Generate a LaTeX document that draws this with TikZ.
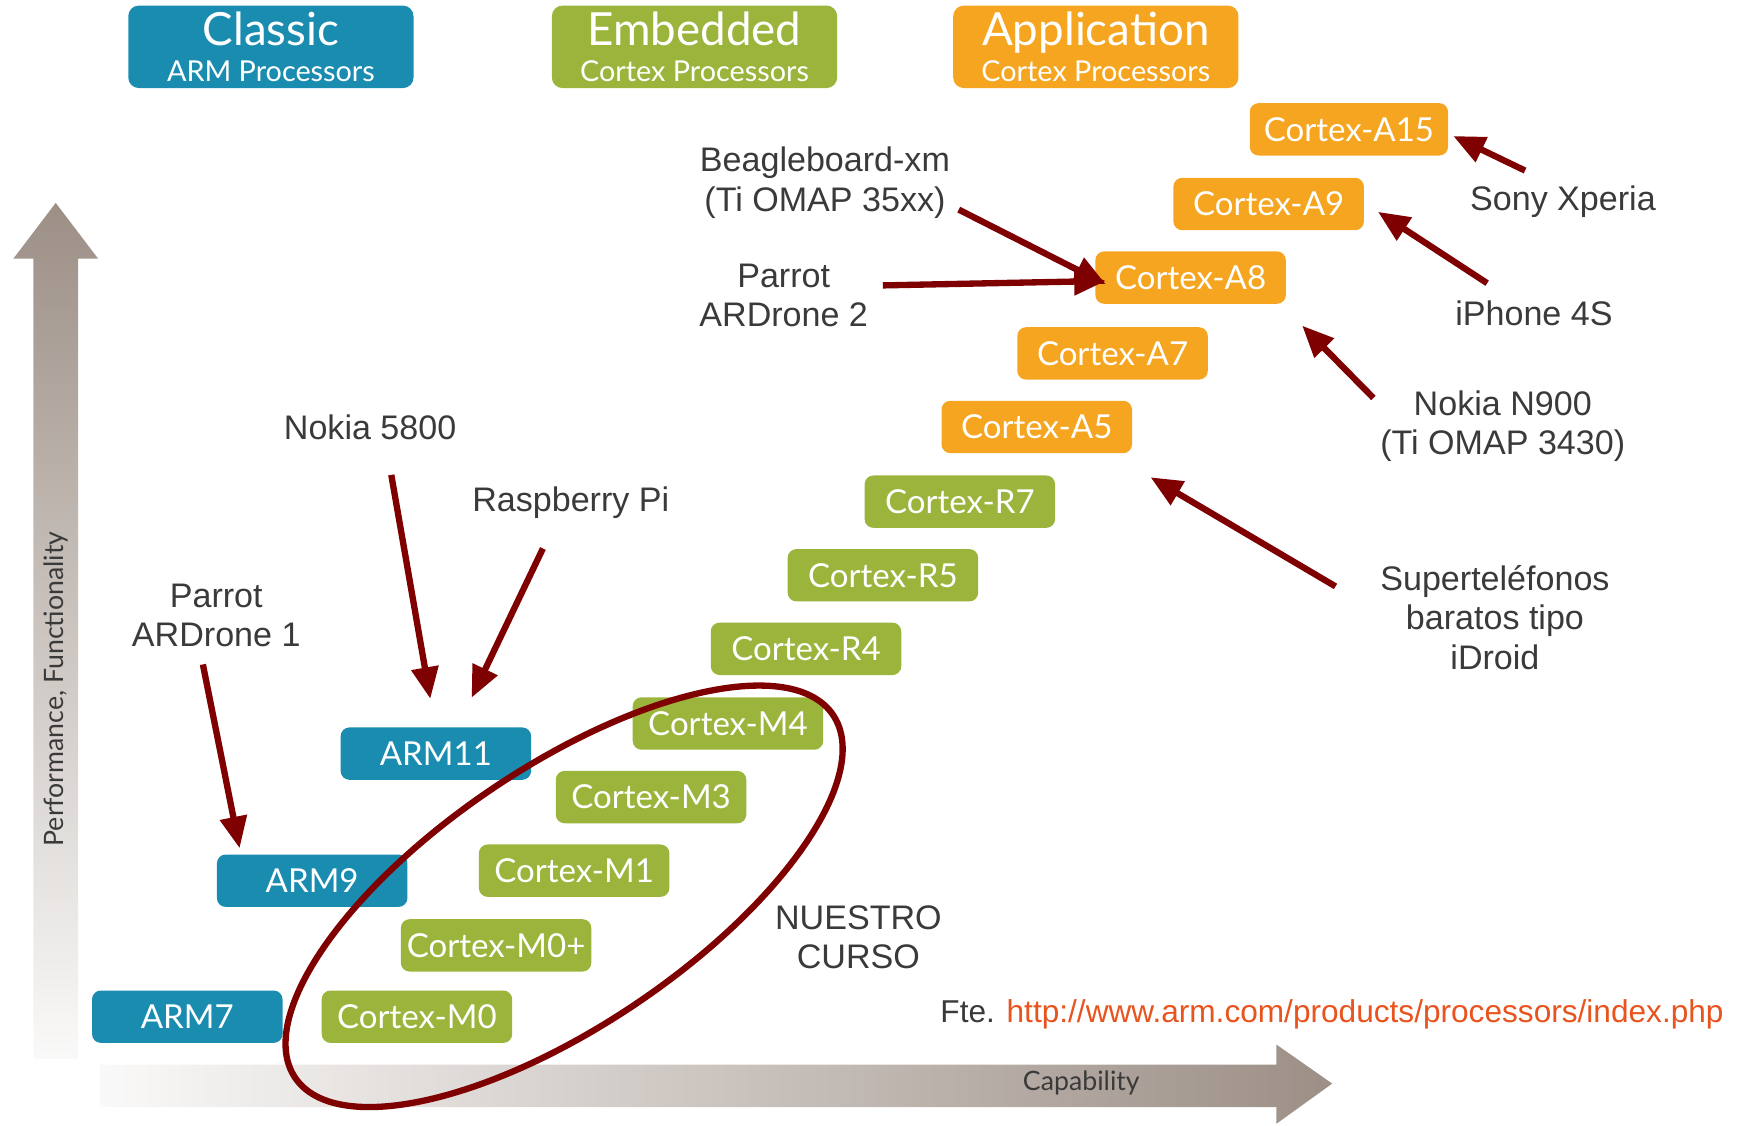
\documentclass[tikz,border=0pt]{standalone}
\usepackage{fontspec}
\setmainfont{Liberation Sans}
\newfontfamily\chipfont{Lato}
\usetikzlibrary{arrows.meta}

\definecolor{armblue}{HTML}{1A8CB0}
\definecolor{armgreen}{HTML}{9BB53C}
\definecolor{armorange}{HTML}{F5A51F}
\definecolor{txtgray}{HTML}{3A3A3A}
\definecolor{darkred}{HTML}{7E0000}
\definecolor{axisgray}{HTML}{9C8F86}
\definecolor{linkred}{HTML}{E8531E}

\tikzset{
  chip/.style={rounded corners=2.5pt, minimum width=1.906cm, minimum height=0.524cm,
    inner sep=0pt, text=white, font=\chipfont\fontsize{9.4}{11}\selectfont},
  classicbox/.style={chip, fill=armblue},
  embbox/.style={chip, fill=armgreen},
  appbox/.style={chip, fill=armorange},
  family/.style={rounded corners=3pt, minimum width=2.854cm, minimum height=0.825cm,
    inner sep=0pt, text=white, align=center, font=\chipfont},
  lbl/.style={text=txtgray, align=center, inner sep=0pt, font=\fontsize{9.7}{11.2}\selectfont},
  axislbl/.style={text=txtgray, inner sep=0pt, font=\chipfont\fontsize{7.6}{9}\selectfont},
  pointer/.style={draw=darkred, line width=1.8pt, -{Triangle[length=9pt,width=7.5pt]}},
}

\begin{document}
\begin{tikzpicture}[x=0.011148cm, y=-0.011148cm]
  \useasboundingbox (0,0) rectangle (1568,1010);

  % axes
  \shade[top color=axisgray, bottom color=white!95!axisgray]
    (30,950) -- (30,232) -- (12,232) -- (50,182) -- (88,232) -- (70,232) -- (70,950) -- cycle;
  \shade[left color=white!95!axisgray, right color=axisgray]
    (90,955) -- (1145,955) -- (1145,937) -- (1195,972) -- (1145,1008) -- (1145,993) -- (90,993) -- cycle;
  \node[axislbl, rotate=90] (perf) at (50,618) {Performance, Functionality};
  \node[axislbl] (capab) at (970,971) {Capability};

  % families
  \node[family, fill=armblue] (classic) at (243,42)
    {{\fontsize{13}{14}\selectfont Classic}\\[-2pt]{\fontsize{8.2}{10}\selectfont ARM Processors}};
  \node[family, fill=armgreen] (embedded) at (623,42)
    {{\fontsize{13}{14}\selectfont Embedded}\\[-2pt]{\fontsize{8.2}{10}\selectfont Cortex Processors}};
  \node[family, fill=armorange] (application) at (983,42)
    {{\fontsize{13}{14}\selectfont Application}\\[-2pt]{\fontsize{8.2}{10}\selectfont Cortex Processors}};

  % processors
  \node[appbox, minimum width=1.984cm] (a15) at (1210,116) {Cortex-A15};
  \foreach \name/\txt/\x/\y/\kind in {
      a9/Cortex-A9/1138/183/appbox, a8/Cortex-A8/1068/249/appbox,
      a7/Cortex-A7/998/317/appbox, a5/Cortex-A5/930/383/appbox,
      r7/Cortex-R7/861/450/embbox, r5/Cortex-R5/792/516/embbox,
      r4/Cortex-R4/723/582/embbox, m4/Cortex-M4/653/649/embbox,
      m3/Cortex-M3/584/715/embbox, m1/Cortex-M1/515/781/embbox,
      m0p/Cortex-M0+/445/848/embbox, m0/Cortex-M0/374/912/embbox,
      arm11/ARM11/391/676/classicbox, arm9/ARM9/280/790/classicbox,
      arm7/ARM7/168/912/classicbox}
    \node[\kind] (\name) at (\x,\y) {\txt};

  % devices
  \node[lbl] (sony) at (1402,181) {Sony Xperia};
  \node[lbl] (iphone) at (1376,281) {iPhone 4S};
  \node[lbl] (n900) at (1348,382) {Nokia N900\\(Ti OMAP 3430)};
  \node[lbl] (superfon) at (1341,554) {Superteléfonos\\baratos tipo\\iDroid};
  \node[lbl] (beagle) at (740,164) {Beagleboard-xm\\(Ti OMAP 35xx)};
  \node[lbl] (drone2) at (703,265) {Parrot\\ARDrone 2};
  \node[lbl] (nokia) at (332,383) {Nokia 5800};
  \node[lbl] (rpi) at (512,451) {Raspberry Pi};
  \node[lbl] (drone1) at (194,552) {Parrot\\ARDrone 1};
  \node[lbl] (curso) at (770,841) {NUESTRO\\CURSO};
  \node[lbl, anchor=west, font=\fontsize{9}{11}\selectfont] (fte) at (843,910)
    {Fte. \textcolor{linkred}{http://www.arm.com/products/processors/index.php}};

  % pointers
  \draw[pointer] ([shift={(-34,-28)}]sony.center) -- ([shift={(4,6)}]a15.east);
  \draw[pointer] ([shift={(-42,-27)}]iphone.center) -- ([shift={(12,7)}]a9.east);
  \draw[pointer] ([shift={(-116,-25)}]n900.center) -- ([shift={(14,19)}]a8.south east);
  \draw[pointer] ([shift={(-143,-28)}]superfon.center) -- ([shift={(16,21)}]a5.south east);
  \draw[pointer] ([shift={(120,24)}]beagle.center) -- ([shift={(10,6)}]a8.west);
  \draw[pointer] ([shift={(89,-9)}]drone2.center) -- ([shift={(10,3)}]a8.west);
  \draw[pointer] ([shift={(19,43)}]nokia.center) -- ([shift={(-5,-25)}]arm11.north);
  \draw[pointer] ([shift={(-25,41)}]rpi.center) -- ([shift={(32,-26)}]arm11.north);
  \draw[pointer] ([shift={(-12,44)}]drone1.center) -- ([shift={(21,-5)}]arm9.north west);

  % our course
  \draw[darkred, line width=1.8pt, rotate around={34:(506,804)}]
    (506,804) ellipse [x radius=291, y radius=116];
\end{tikzpicture}
\end{document}
